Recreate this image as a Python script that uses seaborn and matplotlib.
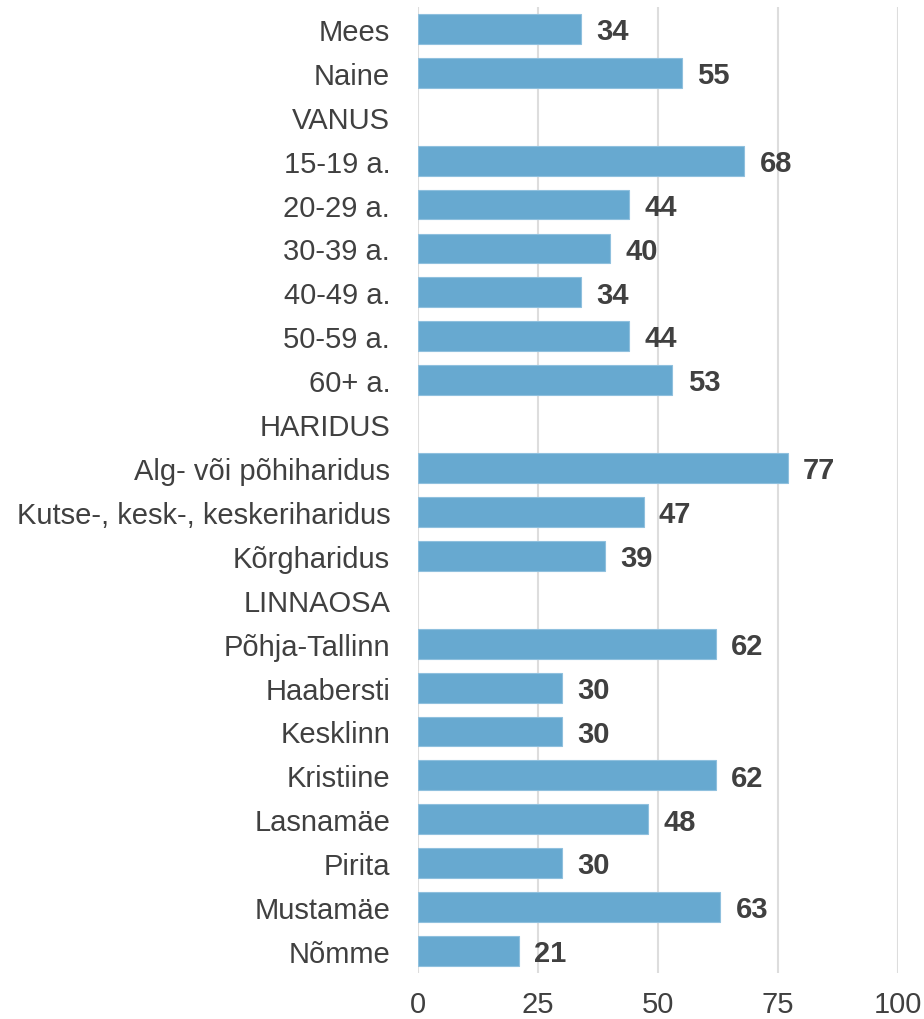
import seaborn as sns
import matplotlib.pyplot as plt
import pandas as pd
import numpy as np

categories = [
    "Mees", "Naine", "VANUS", "15-19 a.", "20-29 a.", "30-39 a.", "40-49 a.",
    "50-59 a.", "60+ a.", "HARIDUS", "Alg- või põhiharidus",
    "Kutse-, kesk-, keskeriharidus", "Kõrgharidus", "LINNAOSA",
    "Põhja-Tallinn", "Haabersti", "Kesklinn", "Kristiine", "Lasnamäe",
    "Pirita", "Mustamäe", "Nõmme",
]
values = [
    34, 55, np.nan, 68, 44, 40, 34, 44, 53, np.nan, 77, 47, 39, np.nan,
    62, 30, 30, 62, 48, 30, 63, 21,
]
x_ticks = [0, 25, 50, 75, 100]

BAR = "#67A9D0"
TEXT = "#404040"


def main():
    plt.rcParams["font.family"] = ["Liberation Sans", "DejaVu Sans"]
    df = pd.DataFrame({"cat": categories, "val": values})

    fig = plt.figure(figsize=(9.24, 10.2), dpi=100)
    ax = fig.add_axes([0.4524, 0.0451, 0.5195, 0.9471])
    sns.barplot(df.dropna(), x="val", y="cat", order=categories,
                color=BAR, width=0.68, saturation=1, ax=ax, orient="h",
                edgecolor="#8fc0de", linewidth=0.8, zorder=3)

    for i, v in enumerate(values):
        if not np.isnan(v):
            ax.text(v + 3.2, i + 0.05, f"{v:.0f}", va="center", ha="left",
                    fontsize=21, fontweight="bold", color=TEXT)

    ax.set_xlim(0, 100)
    ax.set_ylim(len(categories) - 0.5, -0.5)
    ax.set_xticks(x_ticks)
    ax.grid(axis="x", color="#DDDDDD", linewidth=1.5, zorder=0)
    ax.set_axisbelow(True)
    for s in ax.spines.values():
        s.set_visible(False)
    ax.tick_params(axis="both", length=0, labelsize=21, labelcolor=TEXT)
    ax.tick_params(axis="x", pad=12)
    ax.tick_params(axis="y", pad=20)
    ax.set_xlabel("")
    ax.set_ylabel("")

    fig.savefig("out.png", dpi=100)


if __name__ == "__main__":
    main()
